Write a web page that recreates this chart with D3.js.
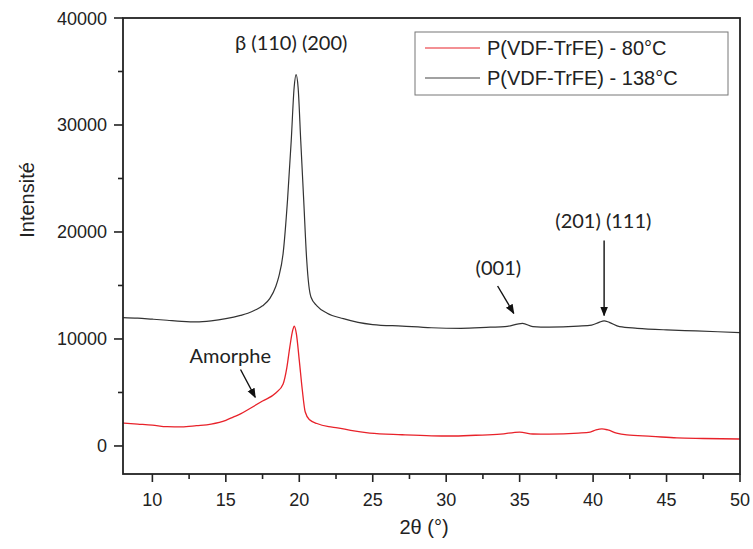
<!DOCTYPE html>
<html><head><meta charset="utf-8">
<script src="https://cdn.jsdelivr.net/npm/d3@7"></script>
<style>body{margin:0;background:#fff}svg{display:block}</style>
</head><body>
<svg id="chart" width="753" height="549"></svg>
<script>
const theta138 = [8,9,10,11,12,13,14,15,16,16.5,17,17.5,18,18.4,18.6,18.9,19.2,19.45,19.65,19.78,19.92,20.1,20.3,20.5,20.65,20.8,21.2,21.9,23,24,25,27,29,31,33,34,35.2,35.9,37,39,39.9,40.4,40.75,41.1,41.8,43,45,47,50];
const int138 = [12000,11950,11850,11750,11650,11600,11700,11900,12200,12400,12700,13100,13800,14900,15800,18000,23000,28500,33500,34700,33500,28500,23000,17500,15000,13900,13100,12400,11900,11550,11350,11200,11050,11000,11100,11150,11450,11150,11100,11200,11300,11550,11700,11550,11150,11000,10850,10750,10600];
const theta80 = [8,9,10,11,12,13,14,15,15.5,16,16.7,17.5,18.4,18.9,19.15,19.35,19.55,19.66,19.8,20.0,20.2,20.4,20.7,21.2,22,22.6,23.5,24.8,27,29,30.3,32,33.7,35.0,35.9,37,39,39.8,40.2,40.6,41,41.6,42.3,44,45.7,47.5,50];
const int80 = [2150,2050,1950,1800,1780,1900,2050,2400,2700,3000,3550,4200,4950,5800,7300,9200,10800,11200,10500,8000,5300,3200,2450,2100,1800,1700,1450,1200,1050,950,930,1000,1100,1300,1120,1100,1200,1300,1500,1600,1500,1200,1030,900,750,700,650];
const seriesNames = ["P(VDF-TrFE) - 80°C", "P(VDF-TrFE) - 138°C"];
const xTicks = [10,15,20,25,30,35,40,45,50];
const yTicks = [0,10000,20000,30000,40000];
const annotations = [
  {text:"β (110) (200)", x:19.45, y:37000},
  {text:"Amorphe", x:15.3, y:7800},
  {text:"(001)", x:33.55, y:16000},
  {text:"(201) (111)", x:40.7, y:20400}
];
const arrows = [
  {x1:16.0, y1:7150, x2:17.0, y2:4550},
  {x1:33.5, y1:14950, x2:34.6, y2:12400},
  {x1:40.75, y1:19200, x2:40.75, y2:12200}
];

const svg = d3.select("#chart");
const L=123, R=740, T=18, B=474;
const x = d3.scaleLinear().domain([8,50]).range([L,R]);
const y = d3.scaleLinear().domain([-2620,40000]).range([B,T]);
const font = "'Liberation Sans', Arial, sans-serif";
const afont = "Lato, 'Open Sans', sans-serif";

const defs = svg.append("defs");
defs.append("marker").attr("id","ah").attr("viewBox","0 0 10 10").attr("refX",9).attr("refY",5)
  .attr("markerWidth",7).attr("markerHeight",7).attr("orient","auto")
  .append("path").attr("d","M0,1 L10,5 L0,9 z").attr("fill","#111");

// lines
const line = d3.line().x(d=>x(d[0])).y(d=>y(d[1])).curve(d3.curveMonotoneX);
svg.append("path").datum(theta80.map((t,i)=>[t,int80[i]]))
  .attr("d",line).attr("fill","none").attr("stroke","#e8222a").attr("stroke-width",1.3);
svg.append("path").datum(theta138.map((t,i)=>[t,int138[i]]))
  .attr("d",line).attr("fill","none").attr("stroke","#333").attr("stroke-width",1.2);

// frame
svg.append("rect").attr("x",L).attr("y",T).attr("width",R-L).attr("height",B-T)
  .attr("fill","none").attr("stroke","#222").attr("stroke-width",1.8);

// axes
const xMinor = d3.range(7.5,50.1,5).filter(v=>v>=8);
const yMinor = d3.range(-5000,40001,10000).filter(v=>v>=-2620);
const gx = svg.append("g");
gx.selectAll("line.maj").data(xTicks).join("line").attr("x1",d=>x(d)).attr("x2",d=>x(d))
  .attr("y1",B).attr("y2",B+8).attr("stroke","#222").attr("stroke-width",1.6);
gx.selectAll("line.min").data(xMinor).join("line").attr("class","min").attr("x1",d=>x(d)).attr("x2",d=>x(d))
  .attr("y1",B).attr("y2",B+5).attr("stroke","#222").attr("stroke-width",1.6);
gx.selectAll("text").data(xTicks).join("text").attr("x",d=>x(d)).attr("y",B+32)
  .attr("text-anchor","middle").attr("font-family",font).attr("font-size",18).attr("fill","#222").text(d=>d);

const gy = svg.append("g");
gy.selectAll("line.maj").data(yTicks).join("line").attr("x1",L-9).attr("x2",L)
  .attr("y1",d=>y(d)).attr("y2",d=>y(d)).attr("stroke","#222").attr("stroke-width",1.6);
gy.selectAll("line.min").data(yMinor).join("line").attr("class","min").attr("x1",L-5).attr("x2",L)
  .attr("y1",d=>y(d)).attr("y2",d=>y(d)).attr("stroke","#222").attr("stroke-width",1.6);
gy.selectAll("text").data(yTicks).join("text").attr("x",L-16).attr("y",d=>y(d)+6.5)
  .attr("text-anchor","end").attr("font-family",font).attr("font-size",18).attr("fill","#222").text(d=>d);

// axis titles
svg.append("text").attr("transform","translate(34,200) rotate(-90)").attr("text-anchor","middle")
  .attr("font-family",font).attr("font-size",20).attr("fill","#222").text("Intensité");
svg.append("text").attr("x",424).attr("y",534).attr("text-anchor","middle")
  .attr("font-family",font).attr("font-size",20).attr("fill","#222").text("2θ (°)");

// annotations
svg.selectAll("text.ann").data(annotations).join("text").attr("class","ann")
  .attr("x",d=>x(d.x)).attr("y",d=>y(d.y)).attr("text-anchor","middle")
  .attr("font-family",afont).attr("font-size",20).attr("fill","#222").text(d=>d.text);
svg.selectAll("line.arr").data(arrows).join("line").attr("class","arr")
  .attr("x1",d=>x(d.x1)).attr("y1",d=>y(d.y1)).attr("x2",d=>x(d.x2)).attr("y2",d=>y(d.y2))
  .attr("stroke","#111").attr("stroke-width",1.4).attr("marker-end","url(#ah)");

// legend
const lg = svg.append("g");
lg.append("rect").attr("x",415).attr("y",32).attr("width",313).attr("height",63)
  .attr("fill","#fff").attr("stroke","#777").attr("stroke-width",1);
const lcolors = ["#e8222a","#444"];
seriesNames.forEach((n,i)=>{
  const yy = 48 + i*30;
  lg.append("line").attr("x1",425).attr("x2",480).attr("y1",yy).attr("y2",yy)
    .attr("stroke",lcolors[i]).attr("stroke-width",1.2);
  lg.append("text").attr("x",487).attr("y",yy+7).attr("font-family",font).attr("font-size",20)
    .attr("fill","#222").text(n);
});
</script>
</body></html>
